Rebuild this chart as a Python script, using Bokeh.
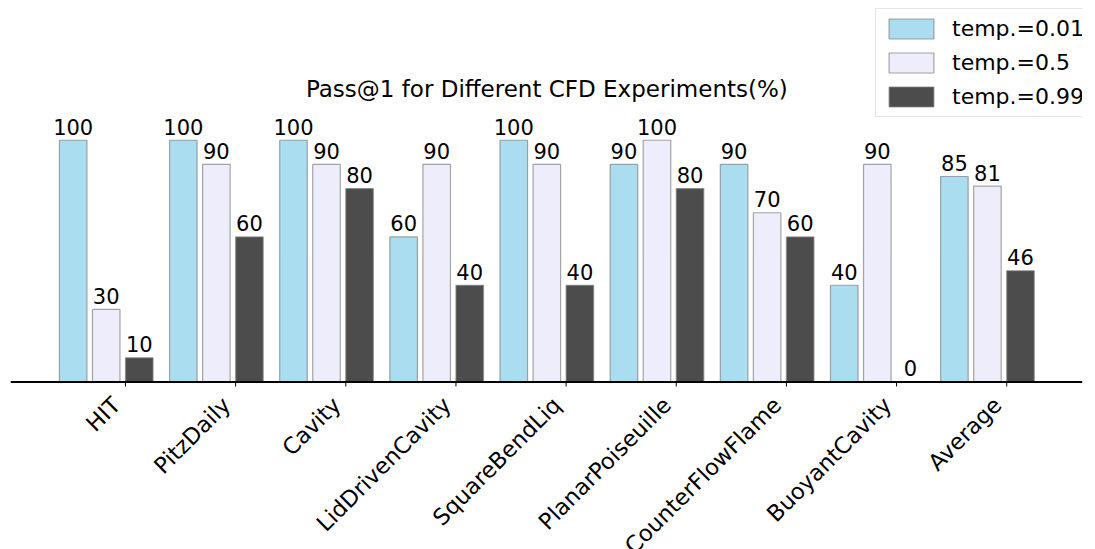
import math
import numpy as np
from bokeh.plotting import figure
from bokeh.models import ColumnDataSource, Range1d, Span
from bokeh.embed import file_html
from bokeh.resources import INLINE
from bokeh.core.properties import value

# ---- data ----
categories = ["HIT", "PitzDaily", "Cavity", "LidDrivenCavity", "SquareBendLiq",
              "PlanarPoiseuille", "CounterFlowFlame", "BuoyantCavity", "Average"]
temp_001 = [100, 100, 100, 60, 100, 90, 90, 40, 85]
temp_05 = [30, 90, 90, 90, 90, 100, 70, 90, 81]
temp_099 = [10, 60, 80, 40, 40, 80, 60, 0, 46]
series_names = ["temp.=0.01", "temp.=0.5", "temp.=0.99"]
series_colors = ["#87CEEB", "#E6E6FA", "#000000"]
title_text = "Pass@1 for Different CFD Experiments(%)"

FONT = "DejaVu Sans"
PX_X = 110.15   # px per x unit
PX_Y = 2.418    # px per y unit

p = figure(width=1095, height=549, output_backend="svg", toolbar_location=None,
           x_range=Range1d(-0.869, 8.863), y_range=Range1d(-69.3, 157.8),
           min_border_left=10, min_border_right=13, min_border_top=0,
           min_border_bottom=0, x_axis_location=None, y_axis_location=None)
p.outline_line_color = None
p.grid.visible = False
p.background_fill_color = "white"
p.border_fill_color = "white"

idx = np.arange(len(categories))
ticks = idx + 0.175

# baseline (x axis line) and tick marks
p.add_layout(Span(location=0, dimension="width", line_color="black", line_width=2))
p.segment(x0=ticks, y0=np.zeros(len(ticks)), x1=ticks,
          y1=np.full(len(ticks), -4.5 / PX_Y), line_color="black", line_width=1)

all_series = [temp_001, temp_05, temp_099]
for k, (vals, name, color) in enumerate(zip(all_series, series_names, series_colors)):
    xs = idx + (k - 1) * 0.3
    src = ColumnDataSource(dict(x=xs, top=vals,
                                ly=[v + 5.6 for v in vals],
                                txt=[str(v) for v in vals]))
    p.vbar(x="x", top="top", width=0.25, source=src, fill_color=color, fill_alpha=0.7,
           line_color="gray", line_alpha=0.7, line_width=1.2, legend_label=name)
    p.text(x="x", y="ly", text="txt", source=src, text_align="center",
           text_baseline="alphabetic", text_font=value(FONT), text_font_size="21px",
           text_color="black")

# rotated category labels
cat_src = ColumnDataSource(dict(x=ticks - 9.3 / PX_X,
                                y=np.full(len(ticks), -19.0 / PX_Y),
                                txt=categories))
p.text(x="x", y="y", text="txt", source=cat_src, angle=math.pi / 4,
       text_align="right", text_baseline="middle", text_font=value(FONT),
       text_font_size="22.5px", text_color="black")

# title
p.text(x=[4.0], y=[121.0], text=[title_text], text_align="center",
       text_baseline="alphabetic", text_font=value(FONT), text_font_size="23px",
       text_color="black")

lg = p.legend[0]
lg.location = (865, 432)
lg.label_text_font = FONT
lg.label_text_font_size = "22px"
lg.label_text_color = "black"
lg.glyph_width = 56
lg.glyph_height = 25
lg.label_height = 25
lg.label_standoff = 13
lg.spacing = 9
lg.padding = 7
lg.margin = 0
lg.border_line_color = "#cccccc"
lg.border_line_width = 1
lg.background_fill_color = "white"
lg.background_fill_alpha = 1

open("out.html", "w").write(file_html(p, INLINE))
